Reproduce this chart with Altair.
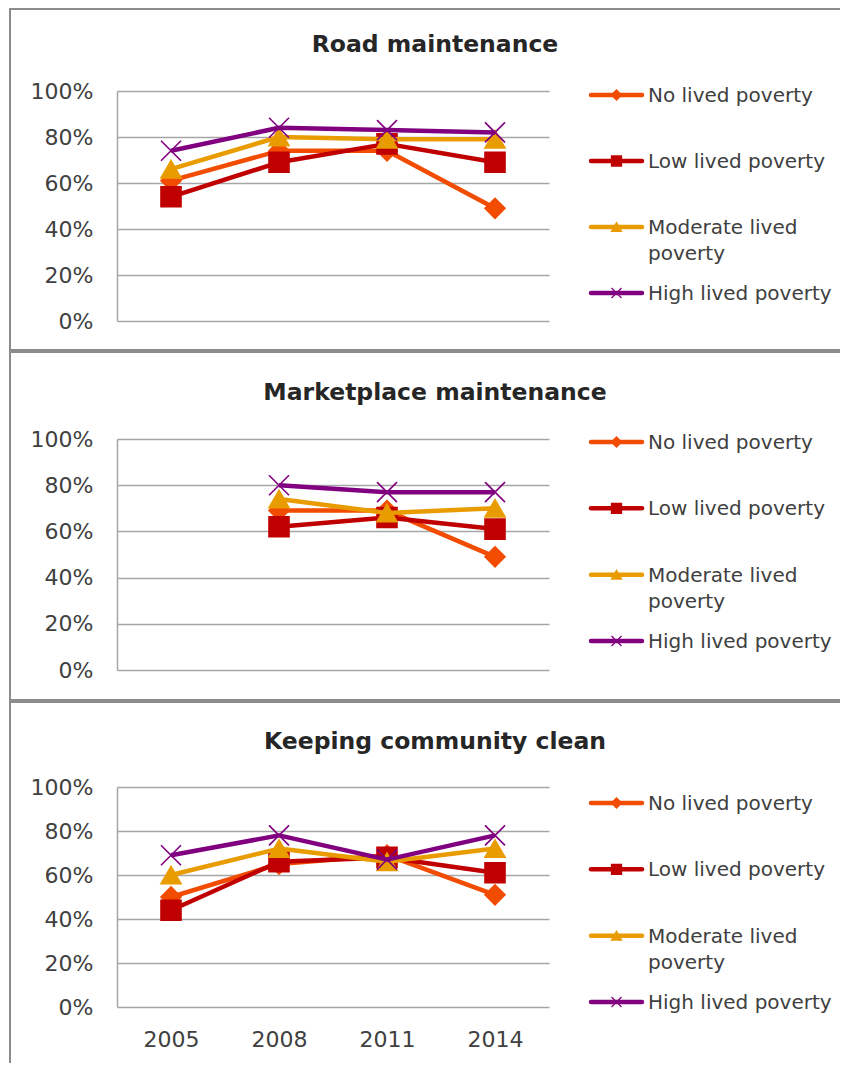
import altair as alt
import pandas as pd

# ---------------- data ----------------
years = ["2005", "2008", "2011", "2014"]
series = ["No lived poverty", "Low lived poverty", "Moderate lived poverty", "High lived poverty"]
legend_labels = ["No lived poverty", "Low lived poverty", "Moderate lived\npoverty", "High lived poverty"]
colors = ["#F24C00", "#C00000", "#E99C00", "#800080"]
X_PATH = "M-1,-1L1,1M-1,1L1,-1"
shapes = ["diamond", "square", "triangle-up", X_PATH]
titles = ["Road maintenance", "Marketplace maintenance", "Keeping community clean"]

road_no = [0.61, 0.74, 0.74, 0.49]
road_low = [0.54, 0.69, 0.77, 0.69]
road_mod = [0.66, 0.80, 0.79, 0.79]
road_high = [0.74, 0.84, 0.83, 0.82]

market_no = [None, 0.69, 0.69, 0.49]
market_low = [None, 0.62, 0.66, 0.61]
market_mod = [None, 0.74, 0.68, 0.70]
market_high = [None, 0.80, 0.77, 0.77]

clean_no = [0.50, 0.65, 0.69, 0.51]
clean_low = [0.44, 0.66, 0.68, 0.61]
clean_mod = [0.60, 0.72, 0.66, 0.72]
clean_high = [0.69, 0.78, 0.67, 0.78]

panel_values = [
    [road_no, road_low, road_mod, road_high],
    [market_no, market_low, market_mod, market_high],
    [clean_no, clean_low, clean_mod, clean_high],
]

# ---------------- style / layout ----------------
FONT = "DejaVu Sans"
TEXT = "#404040"
GRID = "#A6A6A6"
BORDER = "#8C8C8C"
W = 432
RIGHT = 723
layouts = [
    dict(h=230, top=-82, bottom=259, title_y=-46, leg=[4, 202], xlabels=False),
    dict(h=231, top=-87, bottom=261, title_y=-46, leg=[3, 202], xlabels=False),
    dict(h=220, top=-85, bottom=None, title_y=-45, leg=[16, 215], xlabels=True),
]

color_scale = alt.Scale(domain=series, range=colors)
shape_scale = alt.Scale(domain=series, range=shapes)
one = pd.DataFrame({"k": [0]})
legend_df = pd.DataFrame({"series": series, "label": legend_labels})


def make_panel(idx):
    lay = layouts[idx]
    rows = []
    for s, vals in zip(series, panel_values[idx]):
        for y, v in zip(years, vals):
            if v is not None:
                rows.append({"year": y, "series": s, "value": v})
    df = pd.DataFrame(rows)

    if lay["xlabels"]:
        xaxis = alt.Axis(labelAngle=0, domain=False, ticks=False, grid=False,
                         labelPadding=22, title=None)
    else:
        xaxis = None
    xenc = alt.X("year:O", scale=alt.Scale(type="point", domain=years, padding=0.5), axis=xaxis)

    layers = []
    # panel border
    layers.append(alt.Chart(one).mark_rule(color=BORDER, strokeWidth=2).encode(
        x=alt.value(-108), x2=alt.value(RIGHT), y=alt.value(lay["top"])))
    bot = lay["bottom"] if lay["bottom"] is not None else 276
    layers.append(alt.Chart(one).mark_rule(color=BORDER, strokeWidth=2).encode(
        x=alt.value(-107), y=alt.value(lay["top"]), y2=alt.value(bot)))
    if lay["bottom"] is not None:
        layers.append(alt.Chart(one).mark_rule(color=BORDER, strokeWidth=2).encode(
            x=alt.value(-108), x2=alt.value(RIGHT), y=alt.value(lay["bottom"])))
    # title
    layers.append(alt.Chart(pd.DataFrame({"t": [titles[idx]]})).mark_text(
        font=FONT, fontSize=23.5, fontWeight="bold", color="#262626",
        align="center", baseline="middle").encode(
        x=alt.value(318), y=alt.value(lay["title_y"]), text="t:N"))

    first = True
    for s in series:
        yaxis = alt.Axis(values=[0, 0.2, 0.4, 0.6, 0.8, 1.0], format=".0%", title=None,
                         labelPadding=24) if first else None
        yenc = alt.Y("value:Q", scale=alt.Scale(domain=[0, 1], nice=False), axis=yaxis)
        base = alt.Chart(df).transform_filter(alt.datum.series == s)
        layers.append(base.mark_line(strokeWidth=4.5, strokeJoin="round").encode(
            x=xenc, y=yenc, color=alt.Color("series:N", scale=color_scale, legend=None)))
        first = False
        layers.append(base.mark_point(filled=True, opacity=1, strokeWidth=1.6, size=400).encode(
            x=xenc,
            y=alt.Y("value:Q", scale=alt.Scale(domain=[0, 1], nice=False), axis=None),
            color=alt.Color("series:N", scale=color_scale, legend=None),
            stroke=alt.Stroke("series:N", scale=color_scale, legend=None),
            shape=alt.Shape("series:N", scale=shape_scale, legend=None)))

    # legend built from the series list
    ly = alt.Y("series:N", scale=alt.Scale(type="point", domain=series, range=lay["leg"], padding=0),
               axis=None)
    leg = alt.Chart(legend_df)
    layers.append(leg.mark_rule(strokeWidth=4.5, strokeCap="round").encode(
        x=alt.value(474), x2=alt.value(525), y=ly,
        color=alt.Color("series:N", scale=color_scale, legend=None)))
    layers.append(leg.mark_point(filled=True, opacity=1, strokeWidth=1.3, size=100).encode(
        x=alt.value(499.5), y=ly,
        color=alt.Color("series:N", scale=color_scale, legend=None),
        stroke=alt.Stroke("series:N", scale=color_scale, legend=None),
        shape=alt.Shape("series:N", scale=shape_scale, legend=None)))
    layers.append(leg.mark_text(align="left", baseline="alphabetic", dy=7, font=FONT, fontSize=20,
                                lineBreak="\n", lineHeight=26, color=TEXT).encode(
        x=alt.value(531), y=ly, text="label:N"))

    return alt.layer(*layers).properties(width=W, height=lay["h"]).resolve_scale(y="independent")


chart = alt.vconcat(make_panel(0), make_panel(1), make_panel(2), spacing=0).properties(
    padding=0
).configure(padding=0).configure_view(stroke=None).configure_axis(
    labelFont=FONT, labelFontSize=22, labelColor=TEXT,
    gridColor=GRID, gridWidth=1.5, domainColor=GRID, domainWidth=1.5, ticks=False
)

chart.save("out.html", embed_options={"renderer": "svg", "actions": False})
